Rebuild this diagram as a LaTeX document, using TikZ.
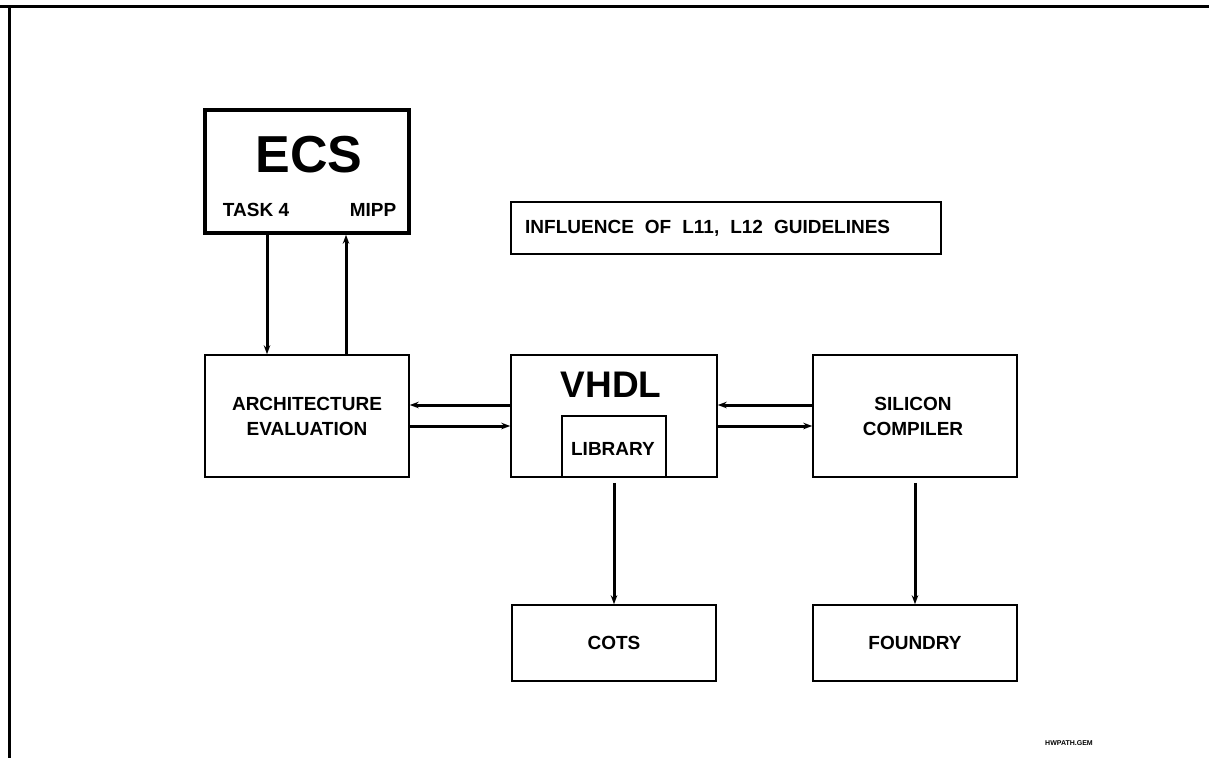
\documentclass[tikz,border=0pt]{standalone}
\usepackage{fontspec}
\setmainfont{Liberation Sans}
\usetikzlibrary{arrows.meta}
\begin{document}
\begin{tikzpicture}[x=1pt,y=-1pt,
  box/.style={draw, line width=1.5pt, inner sep=0pt, rectangle},
  heavybox/.style={draw, line width=3.5pt, inner sep=0pt, rectangle},
  flow/.style={line width=3pt, -{Stealth[length=9pt,width=6.5pt]}},
  lbl/.style={font=\bfseries\fontsize{19}{25}\selectfont, align=center, inner sep=0pt},
]
\useasboundingbox (0,0) rectangle (1209,758);
% sheet border (top and left edges only)
\draw[line width=3pt] (0,6) -- (1209,6);
\draw[line width=3pt] (9,6) -- (9,758);

% ECS block
\node[heavybox, minimum width=204pt, minimum height=123pt] (ecs) at (307,171.5) {};
\node[inner sep=0pt, font=\bfseries\fontsize{52}{56}\selectfont] (ecslbl) at (309,155) {ECS};
\node[lbl] (task) at (256,210) {TASK 4};
\node[lbl] (mipp) at (373,210) {MIPP};

% guidelines note
\node[box, minimum width=430pt, minimum height=52pt] (infl) at (726,228) {};
\node[lbl, anchor=west] (infltxt) at (525,228)
  {INFLUENCE\hspace{11pt}OF\hspace{11pt}L11,\hspace{11pt}L12\hspace{11pt}GUIDELINES};

% middle row
\node[box, minimum width=204pt, minimum height=122pt] (arch) at (307,416) {};
\node[lbl] (archtxt) at (307,416) {ARCHITECTURE\\EVALUATION};

\node[box, minimum width=206pt, minimum height=122pt] (vhdl) at (614,416) {};
\node[inner sep=0pt, font=\bfseries\fontsize{37}{40}\selectfont] (vhdltxt) at (611,385) {VHDL};
\node[box, minimum width=104pt, minimum height=61pt] (lib) at (614,446.5) {};
\node[lbl] (libtxt) at (613,449) {LIBRARY};

\node[box, minimum width=204pt, minimum height=122pt] (sil) at (915,416) {};
\node[lbl] (siltxt) at (913,416) {SILICON\\COMPILER};

% bottom row
\node[box, minimum width=204pt, minimum height=76pt] (cots) at (614,643) {};
\node[lbl] (cotstxt) at (614,643) {COTS};
\node[box, minimum width=204pt, minimum height=76pt] (foundry) at (915,643) {};
\node[lbl] (foundrytxt) at (915,643) {FOUNDRY};

% drawing id
\node[inner sep=0pt, font=\bfseries\fontsize{7}{8}\selectfont] (dwg) at (1069,743) {HWPATH.GEM};

% connectors
\draw[flow] ([xshift=-40pt]ecs.south) -- ([xshift=-40pt]arch.north);
\draw[flow] ([xshift=39pt]arch.north) -- ([xshift=39pt]ecs.south);

\draw[flow] ([yshift=11pt]vhdl.west) -- ([yshift=11pt]arch.east);
\draw[flow] ([yshift=-10pt]arch.east) -- ([yshift=-10pt]vhdl.west);
\draw[flow] ([yshift=11pt]sil.west) -- ([yshift=11pt]vhdl.east);
\draw[flow] ([yshift=-10pt]vhdl.east) -- ([yshift=-10pt]sil.west);

\draw[flow] ([yshift=-5pt]lib.south) -- (cots.north);
\draw[flow] ([yshift=-5pt]sil.south) -- (foundry.north);
\end{tikzpicture}
\end{document}
